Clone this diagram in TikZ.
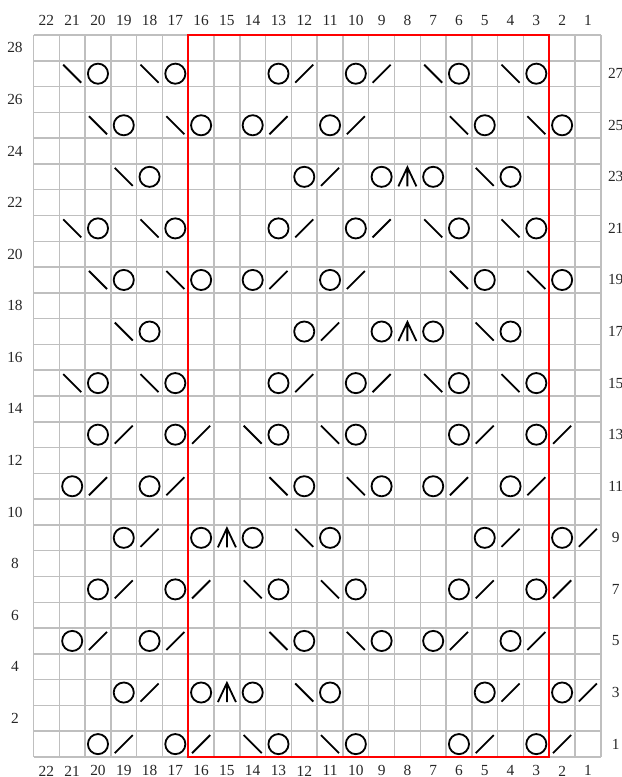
\documentclass[tikz,border=0pt]{standalone}
\usepackage{fontspec}
\setmainfont{Liberation Serif}
\tikzset{
  gridline/.style={draw=black!25,line width=0.8pt},
  chartframe/.style={draw=red,line width=1.1pt},
  stitch/.style={draw=black,line width=1pt},
  numlabel/.style={font=\fontsize{8.5}{10}\selectfont,text=black!85,inner sep=0pt},
  yo/.pic={\draw[stitch] (0,0) circle (0.195cm);},
  ktog/.pic={\draw[stitch] (-0.175cm,-0.175cm) -- (0.175cm,0.175cm);},
  ssk/.pic={\draw[stitch] (-0.175cm,0.175cm) -- (0.175cm,-0.175cm);},
  cdd/.pic={\draw[stitch] (-0.175cm,-0.185cm) -- (0,0.185cm) -- (0.175cm,-0.185cm) (0,0.185cm) -- (0,-0.185cm);}
}

\begin{document}
\begin{tikzpicture}[scale=0.5]
\useasboundingbox (-1.30,-0.776) rectangle (22.815,29.358);
\foreach \x in {0,...,22} \draw[gridline] (\x,0) -- (\x,28);
\foreach \y in {0,...,28} \draw[gridline] (0,\y) -- (22,\y);
\draw[chartframe] (6,0) rectangle (20,28);
% stitch numbers and row numbers
\foreach \c in {1,...,22} {
  \node[numlabel] (top\c) at (22.5-\c,28.58) {\c};
  \node[numlabel] (bot\c) at (22.5-\c,-0.54) {\c};
}
\foreach \r in {2,4,...,28} \node[numlabel] (row\r) at (-0.72,\r-0.5) {\r};
\foreach \r in {1,3,...,27} \node[numlabel] (row\r) at (22.58,\r-0.5) {\r};
% pattern rows
\foreach \r in {27,21,15}
  \foreach \c/\s in {21/ssk,20/yo,18/ssk,17/yo,13/yo,12/ktog,10/yo,9/ktog,7/ssk,6/yo,4/ssk,3/yo}
    \pic at (22.5-\c,\r-0.5) {\s};
\foreach \r in {25,19}
  \foreach \c/\s in {20/ssk,19/yo,17/ssk,16/yo,14/yo,13/ktog,11/yo,10/ktog,6/ssk,5/yo,3/ssk,2/yo}
    \pic at (22.5-\c,\r-0.5) {\s};
\foreach \r in {23,17}
  \foreach \c/\s in {19/ssk,18/yo,12/yo,11/ktog,9/yo,8/cdd,7/yo,5/ssk,4/yo}
    \pic at (22.5-\c,\r-0.5) {\s};
\foreach \r in {13,7,1}
  \foreach \c/\s in {20/yo,19/ktog,17/yo,16/ktog,14/ssk,13/yo,11/ssk,10/yo,6/yo,5/ktog,3/yo,2/ktog}
    \pic at (22.5-\c,\r-0.5) {\s};
\foreach \r in {11,5}
  \foreach \c/\s in {21/yo,20/ktog,18/yo,17/ktog,13/ssk,12/yo,10/ssk,9/yo,7/yo,6/ktog,4/yo,3/ktog}
    \pic at (22.5-\c,\r-0.5) {\s};
\foreach \r in {9,3}
  \foreach \c/\s in {19/yo,18/ktog,16/yo,15/cdd,14/yo,12/ssk,11/yo,5/yo,4/ktog,2/yo,1/ktog}
    \pic at (22.5-\c,\r-0.5) {\s};
\end{tikzpicture}
\end{document}
